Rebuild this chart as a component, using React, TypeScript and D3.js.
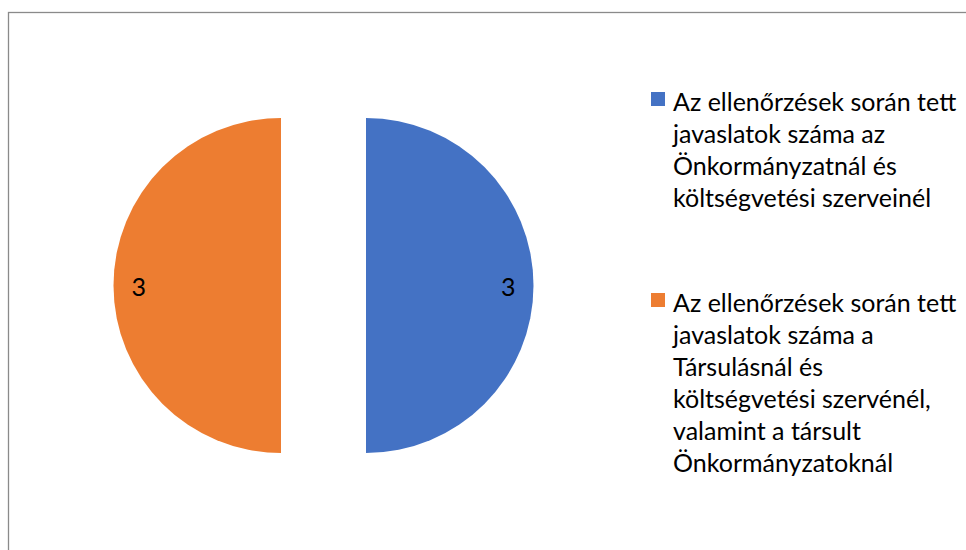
import React from "react";
import * as d3 from "d3";

const categories = [
  "Az ellenőrzések során tett javaslatok száma az Önkormányzatnál és költségvetési szerveinél",
  "Az ellenőrzések során tett javaslatok száma a Társulásnál és költségvetési szervénél, valamint a társult Önkormányzatoknál",
];
const values = [3, 3];
const colors = ["#4472C4", "#ED7D31"];
const legendLines = [
  ["Az ellenőrzések során tett", "javaslatok száma az", "Önkormányzatnál és", "költségvetési szerveinél"],
  ["Az ellenőrzések során tett", "javaslatok száma a", "Társulásnál és", "költségvetési szervénél,", "valamint a társult", "Önkormányzatoknál"],
];

const W = 966;
const H = 550;
const cx = 323.5;
const cy = 285.5;
const R = 167.5;
const explode = 42.5;
const FONT = "Lato, 'Open Sans', sans-serif";

export default function App() {
  const pie = d3.pie<number>().sort(null).value((d) => d);
  const arcs = pie(values);
  const arcGen = d3.arc<d3.PieArcDatum<number>>().innerRadius(0).outerRadius(R);
  const legendY = [104, 305];
  const lineH = 32;

  return (
    <div style={{ position: "fixed", left: 0, top: 0 }}>
      <svg width={W} height={H} style={{ display: "block", background: "#fff" }}>
        <rect x={8.5} y={12.5} width={W + 20} height={H + 20} fill="#fff" stroke="#8a8a8a" strokeWidth={1.3} />
        {arcs.map((a, i) => {
          const mid = (a.startAngle + a.endAngle) / 2;
          const ox = Math.sin(mid) * explode;
          const oy = -Math.cos(mid) * explode;
          const lr = R * 0.85;
          const lx = Math.sin(mid) * lr;
          const ly = -Math.cos(mid) * lr;
          return (
            <g key={i} transform={`translate(${cx + ox},${cy + oy})`}>
              <path d={arcGen(a) || ""} fill={colors[i]} />
              <text
                x={lx}
                y={ly}
                textAnchor="middle"
                dominantBaseline="central"
                fontFamily={FONT}
                fontSize={25}
                fill="#000"
              >
                {values[i]}
              </text>
            </g>
          );
        })}
        {categories.map((c, i) => (
          <g key={c}>
            <rect x={651} y={legendY[i] - 12} width={14} height={14} fill={colors[i]} />
            <text fontFamily={FONT} fontSize={25} fill="#000">
              {legendLines[i].map((l, j) => (
                <tspan key={j} x={673} y={legendY[i] + 7 + j * lineH}>
                  {l}
                </tspan>
              ))}
            </text>
          </g>
        ))}
      </svg>
    </div>
  );
}
